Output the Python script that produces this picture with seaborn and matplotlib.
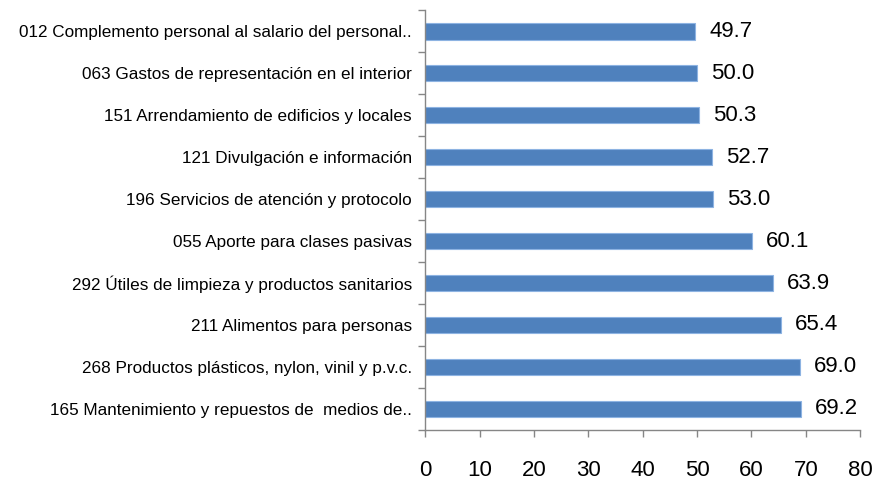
import numpy as np
import pandas as pd
import matplotlib
matplotlib.use("Agg")
import matplotlib.pyplot as plt
import seaborn as sns

# data, top to bottom as in the chart
categories = [
    "012 Complemento personal al salario del personal..",
    "063 Gastos de representación en el interior",
    "151 Arrendamiento de edificios y locales",
    "121 Divulgación e información",
    "196 Servicios de atención y protocolo",
    "055 Aporte para clases pasivas",
    "292 Útiles de limpieza y productos sanitarios",
    "211 Alimentos para personas",
    "268 Productos plásticos, nylon, vinil y p.v.c.",
    "165 Mantenimiento y repuestos de  medios de..",
]
values = [49.7, 50.0, 50.3, 52.7, 53.0, 60.1, 63.9, 65.4, 69.0, 69.2]
x_ticks = [0, 10, 20, 30, 40, 50, 60, 70, 80]

df = pd.DataFrame({"partida": categories, "valor": values})

sns.set_style("white")
plt.rcParams["font.family"] = ["Liberation Sans", "DejaVu Sans"]
plt.rcParams["text.color"] = "black"
plt.rcParams["xtick.labelcolor"] = "black"
plt.rcParams["ytick.labelcolor"] = "black"

fig = plt.figure(figsize=(8.75, 4.82), dpi=100)
ax = fig.add_axes([0.486, 0.108, 0.497, 0.871])

sns.barplot(data=df, x="valor", y="partida", orient="h", color="#4F81BD",
            saturation=1, width=0.4, edgecolor="#8DB3E2", linewidth=0.8, ax=ax)

ax.bar_label(ax.containers[0], fmt="%.1f", padding=10, fontsize=16, color="black")

ax.set_xlim(0, 80)
ax.set_ylim(len(categories) - 0.5, -0.5)
ax.set_xticks(x_ticks)
ax.set_xlabel("")
ax.set_ylabel("")

# ticks on the category boundaries, not on the labels
ax.set_yticks(np.arange(-0.5, len(categories)), minor=True)
ax.tick_params(axis="y", which="major", left=False, pad=6, labelsize=12.3)
ax.tick_params(axis="y", which="minor", left=True, length=5, color="#868686", width=1)
ax.tick_params(axis="x", bottom=True, length=5, color="#868686", width=1, pad=17, labelsize=16)

for side in ["top", "right"]:
    ax.spines[side].set_visible(False)
for side in ["left", "bottom"]:
    ax.spines[side].set_color("#868686")
    ax.spines[side].set_linewidth(1)

fig.savefig("out.png", dpi=100)
